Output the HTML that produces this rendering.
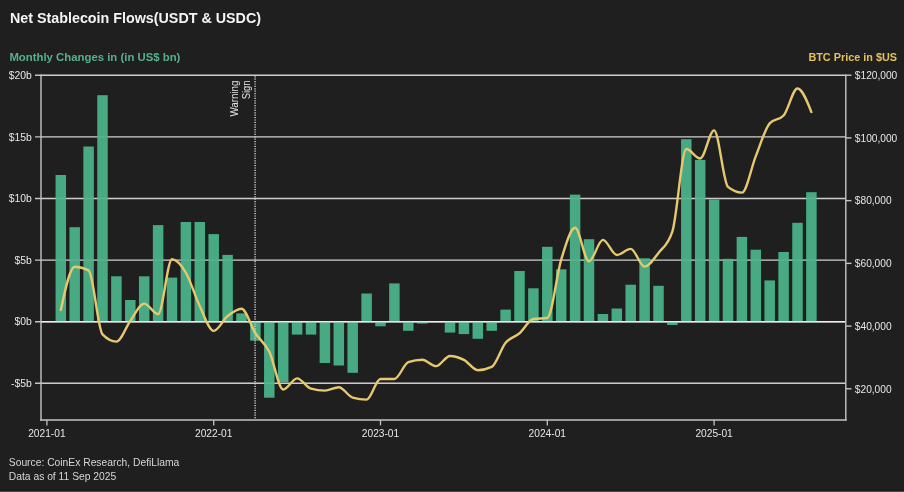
<!DOCTYPE html><html><head><meta charset="utf-8"><title>Net Stablecoin Flows</title><style>
html,body{margin:0;padding:0;background:#1f1f1f;}
body{width:904px;height:492px;overflow:hidden;position:relative;}
svg{display:block;position:absolute;left:0;top:0;will-change:transform;}
text{font-family:"Liberation Sans",Arial,sans-serif;}
</style></head><body>
<svg width="904" height="492" viewBox="0 0 904 492">
<rect x="0" y="0" width="904" height="492" fill="#1f1f1f"/>
<rect x="0" y="490" width="904" height="1" fill="#1a1a1a"/>
<rect x="0" y="491" width="904" height="1" fill="#4a4a4a"/>
<text x="10" y="23.2" font-size="14" font-weight="bold" fill="#f4f4f4" textLength="251" lengthAdjust="spacingAndGlyphs">Net Stablecoin Flows(USDT &amp; USDC)</text>
<text x="9.4" y="60.8" font-size="11" font-weight="bold" fill="#56b08c" textLength="171" lengthAdjust="spacingAndGlyphs">Monthly Changes in (in US$ bn)</text>
<text x="897" y="60.8" font-size="11" font-weight="bold" fill="#e2c15e" text-anchor="end" textLength="88.6" lengthAdjust="spacingAndGlyphs">BTC Price in $US</text>
<line x1="35" y1="75.30" x2="845.80" y2="75.30" stroke="#c4c4c4" stroke-width="1.4"/>
<line x1="35" y1="136.90" x2="845.80" y2="136.90" stroke="#c4c4c4" stroke-width="1.4"/>
<line x1="35" y1="198.50" x2="845.80" y2="198.50" stroke="#c4c4c4" stroke-width="1.4"/>
<line x1="35" y1="260.10" x2="845.80" y2="260.10" stroke="#c4c4c4" stroke-width="1.4"/>
<line x1="35" y1="321.70" x2="845.80" y2="321.70" stroke="#c4c4c4" stroke-width="1.4"/>
<line x1="35" y1="383.30" x2="845.80" y2="383.30" stroke="#c4c4c4" stroke-width="1.4"/>
<rect x="55.55" y="175.00" width="10.50" height="146.60" fill="#47aa82"/>
<rect x="69.45" y="227.20" width="10.50" height="94.40" fill="#47aa82"/>
<rect x="83.35" y="146.50" width="10.50" height="175.10" fill="#47aa82"/>
<rect x="97.25" y="95.20" width="10.50" height="226.40" fill="#47aa82"/>
<rect x="111.15" y="276.30" width="10.50" height="45.30" fill="#47aa82"/>
<rect x="125.05" y="300.00" width="10.50" height="21.60" fill="#47aa82"/>
<rect x="138.95" y="276.30" width="10.50" height="45.30" fill="#47aa82"/>
<rect x="152.85" y="225.10" width="10.50" height="96.50" fill="#47aa82"/>
<rect x="166.75" y="277.60" width="10.50" height="44.00" fill="#47aa82"/>
<rect x="180.65" y="222.00" width="10.50" height="99.60" fill="#47aa82"/>
<rect x="194.55" y="222.00" width="10.50" height="99.60" fill="#47aa82"/>
<rect x="208.45" y="234.10" width="10.50" height="87.50" fill="#47aa82"/>
<rect x="222.35" y="254.90" width="10.50" height="66.70" fill="#47aa82"/>
<rect x="236.25" y="313.40" width="10.50" height="8.20" fill="#47aa82"/>
<rect x="250.15" y="321.60" width="10.50" height="19.10" fill="#47aa82"/>
<rect x="264.05" y="321.60" width="10.50" height="76.10" fill="#47aa82"/>
<rect x="277.95" y="321.60" width="10.50" height="60.60" fill="#47aa82"/>
<rect x="291.85" y="321.60" width="10.50" height="13.00" fill="#47aa82"/>
<rect x="305.75" y="321.60" width="10.50" height="13.00" fill="#47aa82"/>
<rect x="319.65" y="321.60" width="10.50" height="41.40" fill="#47aa82"/>
<rect x="333.55" y="321.60" width="10.50" height="43.90" fill="#47aa82"/>
<rect x="347.45" y="321.60" width="10.50" height="51.20" fill="#47aa82"/>
<rect x="361.35" y="293.50" width="10.50" height="28.10" fill="#47aa82"/>
<rect x="375.25" y="321.60" width="10.50" height="4.70" fill="#47aa82"/>
<rect x="389.15" y="283.40" width="10.50" height="38.20" fill="#47aa82"/>
<rect x="403.05" y="321.60" width="10.50" height="9.20" fill="#47aa82"/>
<rect x="416.95" y="321.60" width="10.50" height="2.00" fill="#47aa82"/>
<rect x="430.85" y="321.60" width="10.50" height="0.00" fill="#47aa82"/>
<rect x="444.75" y="321.60" width="10.50" height="11.00" fill="#47aa82"/>
<rect x="458.65" y="321.60" width="10.50" height="12.50" fill="#47aa82"/>
<rect x="472.55" y="321.60" width="10.50" height="17.20" fill="#47aa82"/>
<rect x="486.45" y="321.60" width="10.50" height="9.20" fill="#47aa82"/>
<rect x="500.35" y="309.60" width="10.50" height="12.00" fill="#47aa82"/>
<rect x="514.25" y="271.00" width="10.50" height="50.60" fill="#47aa82"/>
<rect x="528.15" y="288.30" width="10.50" height="33.30" fill="#47aa82"/>
<rect x="542.05" y="246.80" width="10.50" height="74.80" fill="#47aa82"/>
<rect x="555.95" y="269.30" width="10.50" height="52.30" fill="#47aa82"/>
<rect x="569.85" y="194.60" width="10.50" height="127.00" fill="#47aa82"/>
<rect x="583.75" y="239.20" width="10.50" height="82.40" fill="#47aa82"/>
<rect x="597.65" y="314.00" width="10.50" height="7.60" fill="#47aa82"/>
<rect x="611.55" y="308.50" width="10.50" height="13.10" fill="#47aa82"/>
<rect x="625.45" y="284.70" width="10.50" height="36.90" fill="#47aa82"/>
<rect x="639.35" y="258.30" width="10.50" height="63.30" fill="#47aa82"/>
<rect x="653.25" y="285.80" width="10.50" height="35.80" fill="#47aa82"/>
<rect x="667.15" y="321.60" width="10.50" height="3.40" fill="#47aa82"/>
<rect x="681.05" y="139.20" width="10.50" height="182.40" fill="#47aa82"/>
<rect x="694.95" y="159.90" width="10.50" height="161.70" fill="#47aa82"/>
<rect x="708.85" y="199.50" width="10.50" height="122.10" fill="#47aa82"/>
<rect x="722.75" y="258.80" width="10.50" height="62.80" fill="#47aa82"/>
<rect x="736.65" y="236.90" width="10.50" height="84.70" fill="#47aa82"/>
<rect x="750.55" y="249.70" width="10.50" height="71.90" fill="#47aa82"/>
<rect x="764.45" y="280.40" width="10.50" height="41.20" fill="#47aa82"/>
<rect x="778.35" y="252.00" width="10.50" height="69.60" fill="#47aa82"/>
<rect x="792.25" y="222.80" width="10.50" height="98.80" fill="#47aa82"/>
<rect x="806.15" y="192.20" width="10.50" height="129.40" fill="#47aa82"/>
<line x1="41.00" y1="75.30" x2="845.80" y2="75.30" stroke="#ffffff" stroke-opacity="0.12" stroke-width="1.4"/>
<line x1="41.00" y1="136.90" x2="845.80" y2="136.90" stroke="#ffffff" stroke-opacity="0.12" stroke-width="1.4"/>
<line x1="41.00" y1="198.50" x2="845.80" y2="198.50" stroke="#ffffff" stroke-opacity="0.12" stroke-width="1.4"/>
<line x1="41.00" y1="260.10" x2="845.80" y2="260.10" stroke="#ffffff" stroke-opacity="0.12" stroke-width="1.4"/>
<line x1="41.00" y1="321.70" x2="845.80" y2="321.70" stroke="#ffffff" stroke-opacity="0.72" stroke-width="1.4"/>
<line x1="41.00" y1="383.30" x2="845.80" y2="383.30" stroke="#ffffff" stroke-opacity="0.12" stroke-width="1.4"/>
<line x1="41.00" y1="74.40" x2="41.00" y2="420.80" stroke="#c4c4c4" stroke-width="1.4"/>
<line x1="845.80" y1="74.40" x2="845.80" y2="420.80" stroke="#c4c4c4" stroke-width="1.4"/>
<line x1="40.20" y1="420.00" x2="846.60" y2="420.00" stroke="#c4c4c4" stroke-width="1.4"/>
<line x1="845.80" y1="75.20" x2="851.5" y2="75.20" stroke="#c4c4c4" stroke-width="1.4"/>
<text x="854.8" y="78.90" font-size="10.2" fill="#e6e6e6">$120,000</text>
<line x1="845.80" y1="137.92" x2="851.5" y2="137.92" stroke="#c4c4c4" stroke-width="1.4"/>
<text x="854.8" y="141.62" font-size="10.2" fill="#e6e6e6">$100,000</text>
<line x1="845.80" y1="200.64" x2="851.5" y2="200.64" stroke="#c4c4c4" stroke-width="1.4"/>
<text x="854.8" y="204.34" font-size="10.2" fill="#e6e6e6">$80,000</text>
<line x1="845.80" y1="263.36" x2="851.5" y2="263.36" stroke="#c4c4c4" stroke-width="1.4"/>
<text x="854.8" y="267.06" font-size="10.2" fill="#e6e6e6">$60,000</text>
<line x1="845.80" y1="326.08" x2="851.5" y2="326.08" stroke="#c4c4c4" stroke-width="1.4"/>
<text x="854.8" y="329.78" font-size="10.2" fill="#e6e6e6">$40,000</text>
<line x1="845.80" y1="388.80" x2="851.5" y2="388.80" stroke="#c4c4c4" stroke-width="1.4"/>
<text x="854.8" y="392.50" font-size="10.2" fill="#e6e6e6">$20,000</text>
<text x="31.8" y="78.90" font-size="10.4" fill="#e6e6e6" text-anchor="end">$20b</text>
<text x="31.8" y="140.50" font-size="10.4" fill="#e6e6e6" text-anchor="end">$15b</text>
<text x="31.8" y="202.10" font-size="10.4" fill="#e6e6e6" text-anchor="end">$10b</text>
<text x="31.8" y="263.70" font-size="10.4" fill="#e6e6e6" text-anchor="end">$5b</text>
<text x="31.8" y="325.30" font-size="10.4" fill="#e6e6e6" text-anchor="end">$0b</text>
<text x="31.8" y="386.90" font-size="10.4" fill="#e6e6e6" text-anchor="end">-$5b</text>
<line x1="46.90" y1="420.00" x2="46.90" y2="425.4" stroke="#c4c4c4" stroke-width="1.3"/>
<text x="46.90" y="436.8" font-size="10.2" fill="#e6e6e6" text-anchor="middle">2021-01</text>
<line x1="213.70" y1="420.00" x2="213.70" y2="425.4" stroke="#c4c4c4" stroke-width="1.3"/>
<text x="213.70" y="436.8" font-size="10.2" fill="#e6e6e6" text-anchor="middle">2022-01</text>
<line x1="380.50" y1="420.00" x2="380.50" y2="425.4" stroke="#c4c4c4" stroke-width="1.3"/>
<text x="380.50" y="436.8" font-size="10.2" fill="#e6e6e6" text-anchor="middle">2023-01</text>
<line x1="547.30" y1="420.00" x2="547.30" y2="425.4" stroke="#c4c4c4" stroke-width="1.3"/>
<text x="547.30" y="436.8" font-size="10.2" fill="#e6e6e6" text-anchor="middle">2024-01</text>
<line x1="714.10" y1="420.00" x2="714.10" y2="425.4" stroke="#c4c4c4" stroke-width="1.3"/>
<text x="714.10" y="436.8" font-size="10.2" fill="#e6e6e6" text-anchor="middle">2025-01</text>
<line x1="255.1" y1="76.20" x2="255.1" y2="419.00" stroke="#cfcfcf" stroke-width="1.4" stroke-dasharray="1.2 1.2"/>
<text transform="translate(238.1 80.6) rotate(-90)" font-size="10.2" fill="#e6e6e6" text-anchor="end" textLength="35.9" lengthAdjust="spacingAndGlyphs">Warning</text>
<text transform="translate(249.8 80.6) rotate(-90)" font-size="10.2" fill="#e6e6e6" text-anchor="end" textLength="18.7" lengthAdjust="spacingAndGlyphs">Sign</text>
<path d="M60.80,309.97C65.43,288.36,70.07,266.75,74.70,266.75C79.33,266.75,83.97,267.97,88.60,270.42C93.23,272.86,97.87,329.66,102.50,334.45C107.13,339.24,111.77,341.63,116.40,341.63C121.03,341.63,125.67,327.32,130.30,320.98C134.93,314.64,139.57,303.61,144.20,303.61C148.83,303.61,153.47,314.19,158.10,314.19C162.73,314.19,167.37,259.23,172.00,259.23C176.63,259.23,181.27,264.91,185.90,272.75C190.53,280.60,195.17,296.62,199.80,306.30C204.43,315.99,209.07,330.84,213.70,330.84C218.33,330.84,222.97,319.75,227.60,316.06C232.23,312.38,236.87,308.71,241.50,308.71C246.13,308.71,250.77,326.06,255.40,333.25C260.03,340.43,264.67,342.45,269.30,351.82C273.93,361.19,278.57,389.47,283.20,389.47C287.83,389.47,292.47,378.34,297.10,378.34C301.73,378.34,306.37,387.35,311.00,388.64C315.63,389.94,320.27,390.58,324.90,390.58C329.53,390.58,334.17,387.25,338.80,387.25C343.43,387.25,348.07,396.38,352.70,397.68C357.33,398.98,361.97,399.63,366.60,399.63C371.23,399.63,375.87,378.97,380.50,378.96C385.13,378.94,389.77,378.95,394.40,378.93C399.03,378.91,403.67,363.86,408.30,362.21C412.93,360.56,417.57,359.74,422.20,359.74C426.83,359.74,431.47,366.16,436.10,366.16C440.73,366.16,445.37,355.94,450.00,355.94C454.63,355.94,459.27,357.48,463.90,359.85C468.53,362.23,473.17,370.20,477.80,370.20C482.43,370.20,487.07,369.12,491.70,366.95C496.33,364.78,500.97,348.42,505.60,342.80C510.23,337.19,514.87,337.22,519.50,333.25C524.13,329.28,528.77,319.64,533.40,318.98C538.03,318.31,542.67,318.65,547.30,317.98C551.93,317.32,556.57,274.63,561.20,259.60C565.83,244.58,570.47,227.82,575.10,227.82C579.73,227.82,584.37,261.36,589.00,261.36C593.63,261.36,598.27,239.87,602.90,239.87C607.53,239.87,612.17,254.96,616.80,254.96C621.43,254.96,626.07,248.87,630.70,248.87C635.33,248.87,639.97,266.59,644.60,266.59C649.23,266.59,653.87,258.80,658.50,252.92C663.13,247.04,667.77,245.72,672.40,231.33C677.03,216.93,681.67,149.06,686.30,149.06C690.93,149.06,695.57,158.53,700.20,158.53C704.83,158.53,709.47,130.38,714.10,130.38C718.73,130.38,723.37,183.11,728.00,186.92C732.63,190.74,737.27,192.65,741.90,192.65C746.53,192.65,751.17,167.63,755.80,156.09C760.43,144.54,765.07,128.60,769.70,123.38C774.33,118.15,778.97,120.77,783.60,115.54C788.23,110.32,792.87,88.50,797.50,88.50C802.13,88.50,806.77,100.30,811.40,112.09" fill="none" stroke="#e6c86f" stroke-width="2.4" stroke-linejoin="round" stroke-linecap="round"/>
<text x="8.8" y="466.4" font-size="10.3" fill="#d6d6d6">Source: CoinEx Research, DefiLlama</text>
<text x="8.8" y="480.2" font-size="10.3" fill="#d6d6d6">Data as of 11 Sep 2025</text>
</svg></body></html>
